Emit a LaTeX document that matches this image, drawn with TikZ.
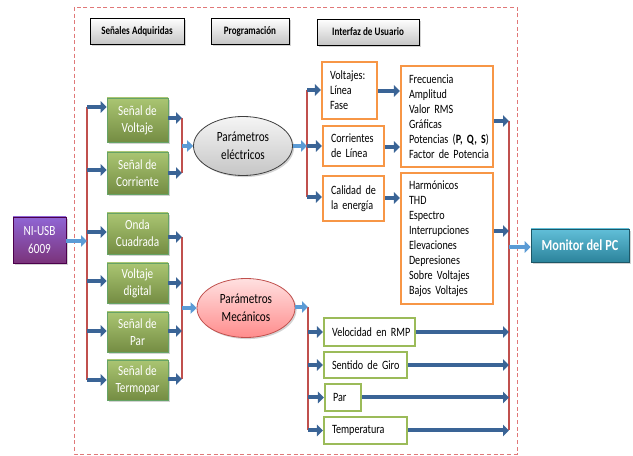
\documentclass[tikz,border=0pt]{standalone}
\usepackage{fontspec}
\setmainfont{Carlito}[FakeStretch=0.8]
\usetikzlibrary{arrows.meta,shapes.geometric,shadows,calc}
\hfuzz=100pt
\newcommand{\tightsp}{\spaceskip=0.19em plus 0.05em\relax}
\definecolor{redline}{HTML}{C0504D}
\definecolor{darkarr}{HTML}{3A6496}
\definecolor{lightarr}{HTML}{5B9BD5}
\definecolor{orng}{HTML}{F79646}
\definecolor{grn}{HTML}{9BBB59}
\definecolor{frame}{HTML}{E07878}
\definecolor{monc}{HTML}{3AAFCF}
\tikzset{
  shd/.style={drop shadow={opacity=0.35,shadow xshift=1.2pt,shadow yshift=-1.2pt}},
  hdr/.style={draw=black,line width=0.6pt,top color=white,bottom color=gray!45,shd,
    font=\bfseries\fontsize{8.5}{10}\selectfont\tightsp,inner sep=0pt},
  gbox/.style={draw=green!40!black!60,line width=0.4pt,top color=grn!85!white,bottom color=grn!75!black,shd,
    text=white,align=center,font=\fontsize{10.5}{12.75}\selectfont,inner sep=0pt},
  obox/.style={draw=orng,line width=1.6pt,fill=white,align=left,font=\fontsize{9.5}{11.25}\selectfont\tightsp,inner ysep=0pt,inner xsep=6pt},
  lbox/.style={draw=grn,line width=1.6pt,fill=white,align=left,font=\fontsize{9.5}{11.25}\selectfont\tightsp,inner ysep=0pt,inner xsep=6pt},
  redbus/.style={draw=redline,line width=1.5pt},
  darr/.style={draw=darkarr,line width=3pt,-{Triangle[length=4.5pt,width=8.5pt]}},
  larr/.style={draw=lightarr,line width=3pt,-{Triangle[length=4.5pt,width=8.5pt]}},
}
\begin{document}
\begin{tikzpicture}[x=0.75pt,y=-0.75pt]
\useasboundingbox (0,0) rectangle (633,456);
% frame
\draw[frame,line width=0.6pt,dash pattern=on 3pt off 2pt] (74,7) rectangle (517,454);
% headers
\node[hdr,minimum width=94*0.75pt,minimum height=26*0.75pt] (h1) at (137,31) {Señales Adquiridas};
\node[hdr,minimum width=78*0.75pt,minimum height=26*0.75pt] (h2) at (250,31) {Programación};
\node[hdr,minimum width=102*0.75pt,minimum height=26*0.75pt] (h3) at (368,32) {Interfaz de Usuario};
% NI-USB
\node[draw=violet!60!black,line width=0.4pt,top color=violet!55!blue!60!white,bottom color=violet!70!black!80,shd,
  text=white,align=center,font=\fontsize{10.5}{13.5}\selectfont,minimum width=53*0.75pt,minimum height=46*0.75pt,inner sep=0pt] (ni) at (39.5,240) {NI-USB\\6009};
% green boxes
\node[gbox,minimum width=61*0.75pt,minimum height=44*0.75pt] (sv) at (137.5,120) {Señal de\\Voltaje};
\node[gbox,minimum width=61*0.75pt,minimum height=42*0.75pt] (sc) at (137.5,173) {Señal de\\Corriente};
\node[gbox,minimum width=61*0.75pt,minimum height=41*0.75pt] (oc) at (137.5,233.5) {Onda\\Cuadrada};
\node[gbox,minimum width=61*0.75pt,minimum height=40*0.75pt] (vd) at (137.5,283) {Voltaje\\digital};
\node[gbox,minimum width=61*0.75pt,minimum height=40*0.75pt] (sp) at (137.5,332) {Señal de\\Par};
\node[gbox,minimum width=61*0.75pt,minimum height=40*0.75pt] (st) at (137.5,380) {Señal de\\Termopar};
% ellipses
\node[ellipse,draw=black!75,line width=0.6pt,top color=gray!8,bottom color=gray!45,shd,align=center,
  font=\fontsize{10.5}{13.5}\selectfont,minimum width=99*0.75pt,minimum height=59*0.75pt,inner sep=0pt] (pe) at (243,146) {Parámetros\\eléctricos};
\node[ellipse,draw=redline,line width=0.6pt,top color=red!12,bottom color=red!45,shd,align=center,
  font=\fontsize{10.5}{13.5}\selectfont,minimum width=98*0.75pt,minimum height=59*0.75pt,inner sep=0pt] (pm) at (246,308) {Parámetros\\Mecánicos};
% orange left
\node[obox,text width=29.25pt,minimum height=57*0.75pt] (vo) at (349.5,90.5) {\mbox{Voltajes:}\\\mbox{Línea}\\\mbox{Fase}};
\node[obox,text width=33.75pt,minimum height=40*0.75pt] (co) at (353.5,146) {\mbox{Corrientes}\\\mbox{de Línea}};
\node[obox,text width=33.75pt,minimum height=45*0.75pt] (ca) at (353.5,198.5) {\mbox{Calidad de}\\\mbox{la energía}};
% orange right
\node[obox,text width=57pt,minimum height=101*0.75pt] (r1) at (447,116.5) {\mbox{Frecuencia}\\\mbox{Amplitud}\\\mbox{Valor RMS}\\\mbox{Gráficas}\\\mbox{Potencias (\textbf{P, Q, S})}\\\mbox{Factor de Potencia}};
\node[obox,text width=57pt,minimum height=131*0.75pt] (r2) at (447,238.5) {\mbox{Harmónicos}\\\mbox{THD}\\\mbox{Espectro}\\\mbox{Interrupciones}\\\mbox{Elevaciones}\\\mbox{Depresiones}\\\mbox{Sobre Voltajes}\\\mbox{Bajos Voltajes}};
% green outlined
\node[lbox,text width=56.25pt,minimum height=28*0.75pt] (ve) at (369.5,332) {\mbox{Velocidad en RMP}};
\node[lbox,text width=50.25pt,minimum height=26*0.75pt] (sg) at (365.5,365) {\mbox{Sentido de Giro}};
\node[lbox,text width=15pt,minimum height=27*0.75pt] (pa) at (343,397.5) {\mbox{Par}};
\node[lbox,text width=50.25pt,minimum height=27*0.75pt] (te) at (365.5,430.5) {\mbox{Temperatura}};
% monitor
\node[draw=monc!50!black,line width=0.4pt,top color=monc!80!white,bottom color=monc!75!black,shd,
  text=white,font=\bfseries\fontsize{11.5}{14}\selectfont\tightsp,minimum width=98*0.75pt,minimum height=33*0.75pt,inner sep=0pt] (mo) at (580,245.5) {Monitor del PC};
% bus coordinates
\coordinate (bl1) at (87,107);
\coordinate (bl2) at (87,380);
\coordinate (be1) at (182,118);
\coordinate (be2) at (182,173);
\coordinate (bem) at (182,146);
\coordinate (bm1) at (182,237);
\coordinate (bm2) at (182,379);
\coordinate (bmm) at (182,308);
\coordinate (bp1) at (307,90);
\coordinate (bp2) at (307,197);
\coordinate (bpm) at (307,146);
\coordinate (bq1) at (308,307);
\coordinate (bq2) at (308,430);
\coordinate (br1) at (509,121);
\coordinate (br2) at (509,430);
% red buses
\draw[redbus] (bl1) -- (bl2);
\draw[redbus] (be1) -- (be2);
\draw[redbus] (bm1) -- (bm2);
\draw[redbus] (bp1) -- (bp2);
\draw[redbus] (bq1) -- (bq2);
\draw[redbus] (br1) -- (br2);
% NI to bus
\draw[larr] (ni.east|-0,241) -- (bl1|-0,241);
% bus to green boxes
\draw[darr] (bl1) -- (sv.west|-bl1);
\draw[darr] (bl1|-0,170) -- (sc.west|-0,170);
\draw[darr] (bl1|-0,232) -- (oc.west|-0,232);
\draw[darr] (bl1|-0,281) -- (vd.west|-0,281);
\draw[darr] (bl1|-0,331) -- (sp.west|-0,331);
\draw[darr] (bl2) -- (st.west|-bl2);
% green boxes to buses
\draw[darr] (sv.east|-be1) -- (be1);
\draw[darr] (sc.east|-be2) -- (be2);
\draw[darr] (oc.east|-bm1) -- (bm1);
\draw[darr] (vd.east|-0,283) -- (bm1|-0,283);
\draw[darr] (sp.east|-0,331) -- (bm1|-0,331);
\draw[darr] (st.east|-bm2) -- (bm2);
\draw[larr] (bem) -- (pe.west);
\draw[larr] (bmm) -- (pm.west|-bmm);
% electrical
\draw[larr] (pe.east) -- (bpm);
\draw[darr] (bp1) -- (vo.west|-bp1);
\draw[darr] (bpm) -- (co.west|-bpm);
\draw[darr] (bp2) -- (ca.west|-bp2);
\draw[darr] (vo.east|-0,91) -- (r1.west|-0,91);
\draw[darr] (co.east|-0,147) -- (r1.west|-0,147);
\draw[darr] (ca.east|-0,198) -- (r2.west|-0,198);
\draw[darr] (r1.east|-br1) -- (br1);
\draw[darr] (r2.east|-0,231) -- (br1|-0,231);
% mechanical
\draw[larr] (pm.east|-bq1) -- (bq1);
\draw[darr] (bq1|-ve.west) -- (ve.west);
\draw[darr] (bq1|-sg.west) -- (sg.west);
\draw[darr] (bq1|-pa.west) -- (pa.west);
\draw[darr] (bq1|-te.west) -- (te.west);
\draw[darr] (ve.east) -- (br1|-ve.east);
\draw[darr] (sg.east) -- (br1|-sg.east);
\draw[darr] (pa.east) -- (br1|-pa.east);
\draw[darr] (te.east) -- (br1|-te.east);
% monitor
\draw[larr] (br1|-0,247) -- (mo.west|-0,247);
\end{tikzpicture}
\end{document}
